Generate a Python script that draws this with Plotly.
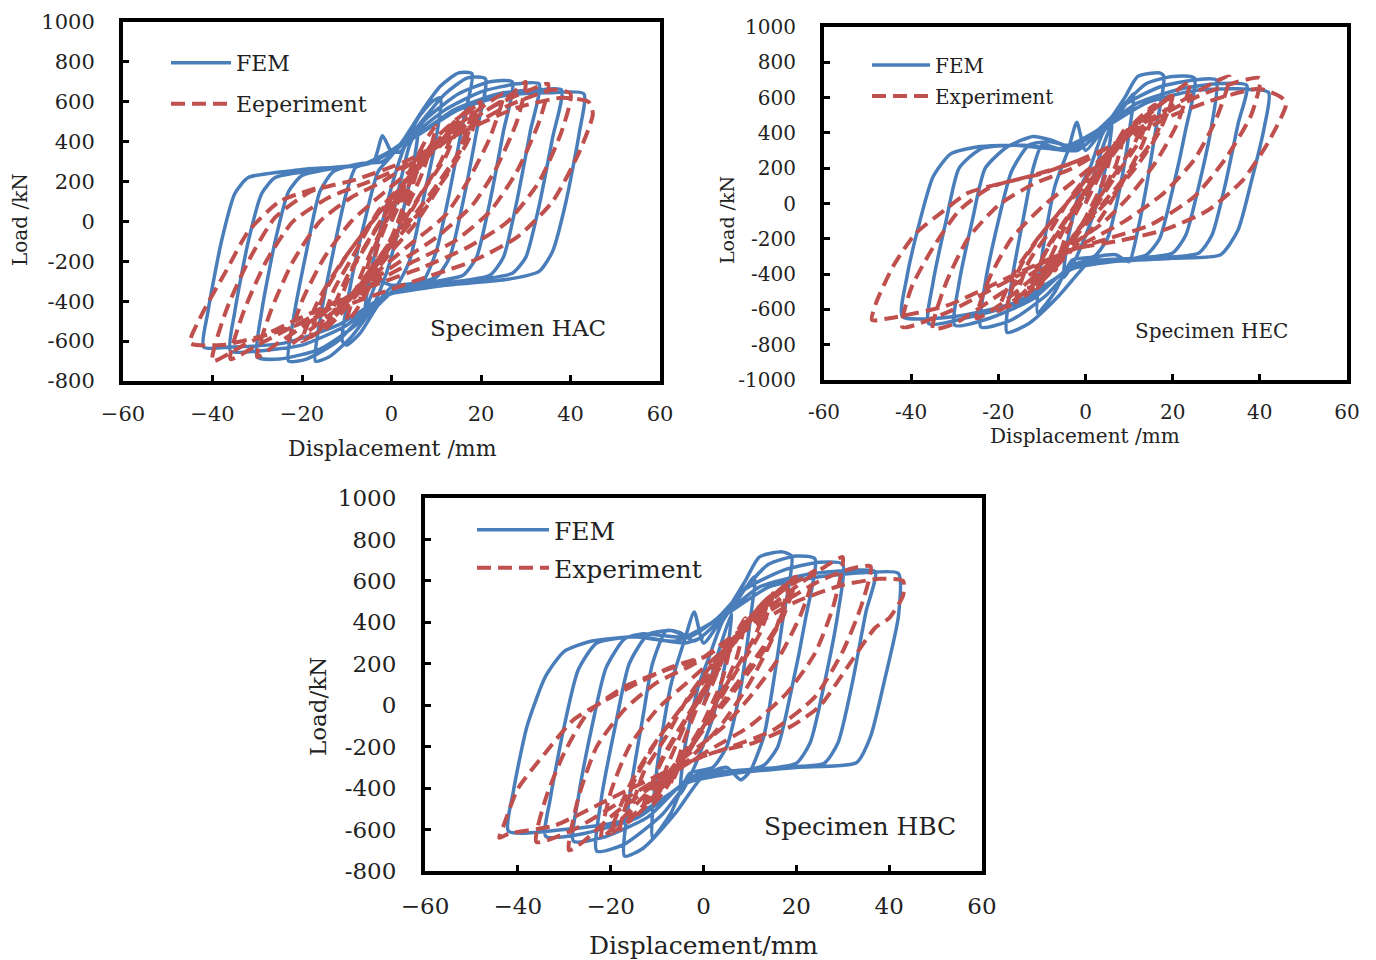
import plotly.graph_objects as go

# ---------------- data (displacement mm, load kN) ----------------
hac_fem = [
    (0, 0), (2, 200), (4, 380), (6, 470), (5, 300), (2, 0), (-1, -250), (-4, -420), (-6, -470), (-5, -300), (-2, 0), (1, 250),
    (3, 380), (6, 520), (9, 600), (11, 620), (10, 420), (7, 100), (4, -200), (1, -330), (-3, -420), (-7, -560), (-10, -620),
    (-11, -600), (-9, -300), (-6, 0), (-3, 250), (0, 330),
    (3, 420), (7, 560), (11, 680), (15, 745), (18, 740), (16, 500), (13, 150), (10, -150), (7, -300), (3, -330), (0, -330),
    (-4, -430), (-9, -580), (-14, -680), (-17, -700), (-16, -500), (-13, -150), (-10, 150), (-8, 270), (-4, 300), (-2, 430), (0, 350),
    (2, 350), (6, 480), (12, 640), (17, 720), (21, 715), (19, 450), (16, 100), (13, -180), (10, -280), (5, -310), (0, -320),
    (-3, -300), (-6, -450), (-12, -600), (-19, -690), (-23, -700), (-22, -500), (-19, -150), (-16, 150), (-13, 250), (-7, 290), (-2, 300),
    (3, 400), (8, 520), (15, 640), (22, 700), (27, 700), (25, 450), (22, 100), (19, -180), (16, -270), (10, -300), (3, -330),
    (-2, -380), (-8, -520), (-16, -640), (-25, -690), (-30, -680), (-29, -450), (-26, -100), (-23, 150), (-20, 230), (-12, 270), (-4, 300),
    (4, 420), (12, 560), (20, 650), (28, 690), (33, 690), (31, 450), (28, 100), (25, -180), (22, -270), (15, -300), (5, -330),
    (-2, -380), (-10, -520), (-20, -620), (-30, -650), (-36, -650), (-35, -450), (-32, -100), (-29, 140), (-26, 220), (-16, 260), (-5, 290),
    (5, 420), (14, 560), (24, 640), (33, 660), (38, 660), (36, 420), (33, 80), (30, -180), (27, -260), (20, -290), (8, -320),
    (-1, -370), (-12, -520), (-24, -610), (-36, -630), (-42, -630), (-41, -450), (-38, -100), (-35, 140), (-32, 220), (-20, 260), (-6, 290),
    (5, 420), (15, 560), (25, 630), (35, 645), (43, 640), (42, 450), (39, 100), (36, -150), (33, -250), (26, -290), (12, -320), (0, -360),
]
hac_exp = [
    (0, 0), (3, 150), (5, 280), (3, 100), (0, -80), (-3, -200), (-5, -300), (-3, -120), (0, 50), (4, 220), (7, 380), (5, 200),
    (1, -30), (-3, -220), (-7, -380), (-5, -200), (-1, 20), (4, 250), (8, 420), (10, 480), (7, 250), (2, 0), (-3, -250),
    (-8, -450), (-10, -500), (-7, -280), (-2, -30),
    (3, 150), (8, 330), (12, 430), (14, 470), (11, 300), (6, 120), (1, -60), (-4, -220), (-9, -380), (-12, -450), (-9, -250),
    (-4, -60), (1, 120), (6, 280), (11, 420), (15, 500), (12, 320), (7, 150), (2, -40), (-4, -230), (-10, -410), (-14, -500),
    (-10, -280), (-5, -90), (0, 80),
    (2, 100), (7, 300), (12, 450), (16, 540), (20, 600), (17, 400), (12, 220), (6, 40), (0, -120), (-6, -300), (-12, -460),
    (-17, -560), (-20, -600), (-16, -380), (-11, -200), (-5, -20), (1, 130), (8, 320), (14, 480), (19, 580), (16, 380),
    (10, 180), (4, 0), (-2, -160), (-8, -340), (-14, -500), (-18, -580), (-15, -360), (-10, -170), (-4, 10),
    (5, 250), (10, 420), (15, 520), (18, 560), (15, 350), (10, 150), (5, -20), (0, -150), (-6, -320), (-12, -480), (-16, -560),
    (-13, -350), (-8, -150), (-3, 50), (3, 200),
    (10, 380), (17, 520), (22, 600), (25, 640), (22, 420), (17, 200), (12, 30), (5, -100), (-2, -230), (-10, -400), (-18, -540),
    (-23, -620), (-20, -400), (-15, -180), (-9, 0), (-3, 120), (4, 250),
    (12, 400), (20, 540), (27, 640), (30, 700), (28, 500), (23, 250), (18, 80), (10, -80), (2, -200), (-8, -350), (-18, -500),
    (-26, -620), (-30, -680), (-27, -450), (-22, -200), (-16, 0), (-9, 120), (-2, 200), (5, 300),
    (14, 450), (23, 580), (31, 660), (35, 690), (33, 500), (28, 250), (22, 50), (14, -100), (5, -200), (-5, -320), (-18, -480),
    (-30, -620), (-36, -690), (-33, -450), (-28, -200), (-22, 0), (-14, 120), (-5, 200), (4, 290),
    (15, 440), (26, 580), (36, 660), (40, 640), (38, 450), (33, 200), (26, 0), (17, -130), (7, -230), (-5, -330), (-20, -480),
    (-33, -620), (-40, -700), (-37, -450), (-32, -200), (-26, 20), (-18, 150), (-8, 210), (3, 300),
    (16, 450), (28, 570), (38, 620), (44, 600), (45, 540), (42, 350), (36, 100), (28, -80), (18, -200), (5, -300), (-10, -420),
    (-25, -550), (-38, -620), (-45, -610), (-42, -450), (-37, -250), (-32, -50), (-25, 100), (-15, 180),
]

hec_fem = [
    (0, 0), (3, 250), (6, 450), (5, 250), (2, -50), (-2, -300), (-5, -420), (-4, -200), (-1, 100), (1, 200),
    (4, 400), (8, 520), (11, 620), (10, 400), (8, 100), (5, -200), (2, -300), (-3, -320), (-7, -500), (-11, -620), (-10, -300),
    (-7, 100), (-4, 300), (-2, 460), (0, 300),
    (4, 420), (9, 600), (12, 720), (17, 740), (18, 720), (16, 400), (14, 100), (12, -150), (10, -330), (7, -290), (3, -300),
    (0, -350), (-6, -520), (-13, -680), (-18, -730), (-17, -450), (-14, -50), (-12, 200), (-10, 330), (-6, 310), (-2, 300),
    (3, 400), (8, 540), (14, 680), (20, 720), (25, 710), (23, 420), (20, 80), (17, -200), (14, -290), (9, -320), (3, -320),
    (-2, -340), (-9, -520), (-17, -660), (-24, -700), (-23, -450), (-20, -100), (-17, 180), (-13, 330), (-8, 350), (-4, 330),
    (3, 420), (9, 560), (17, 660), (25, 700), (30, 700), (29, 450), (26, 100), (23, -180), (20, -280), (12, -310), (4, -320),
    (-3, -350), (-12, -540), (-22, -650), (-30, -690), (-29, -450), (-26, -100), (-23, 200), (-18, 320), (-12, 380), (-8, 360), (-3, 320),
    (4, 430), (12, 570), (22, 650), (31, 680), (37, 670), (35, 450), (32, 100), (29, -180), (26, -280), (16, -310), (5, -320),
    (-3, -360), (-14, -550), (-26, -640), (-36, -680), (-35, -450), (-32, -100), (-29, 200), (-24, 310), (-16, 330), (-6, 310),
    (5, 440), (14, 570), (25, 640), (35, 650), (42, 630), (41, 430), (38, 120), (35, -150), (31, -290), (20, -310), (6, -330),
    (-3, -370), (-16, -560), (-30, -640), (-42, -640), (-41, -420), (-38, -100), (-35, 150), (-31, 280), (-25, 320), (-14, 330),
    (-4, 300), (0, 330),
]
hec_exp = [
    (0, 0), (3, 150), (6, 300), (4, 120), (0, -80), (-4, -250), (-7, -380), (-4, -150), (0, 50), (5, 250), (9, 420), (7, 220),
    (2, -20), (-3, -220), (-9, -420), (-11, -480), (-7, -250), (-2, 0), (4, 220),
    (8, 360), (12, 460), (14, 500), (11, 330), (6, 140), (1, -50), (-4, -230), (-9, -400), (-12, -460), (-9, -260), (-4, -70),
    (1, 110), (6, 290), (11, 440), (15, 530), (12, 340), (7, 160), (2, -30), (-4, -240), (-10, -420), (-13, -480), (-9, -270),
    (-4, -80), (1, 90),
    (7, 300), (12, 450), (16, 540), (20, 610), (17, 410), (12, 220), (6, 40), (0, -120), (-6, -300), (-12, -460), (-17, -560),
    (-20, -610), (-16, -380), (-11, -200), (-5, -20), (1, 130), (8, 330), (14, 490), (19, 590), (16, 380), (10, 180), (4, 0),
    (-2, -160), (-8, -340), (-14, -500), (-18, -590), (-15, -360), (-10, -170), (-4, 10),
    (9, 400), (13, 500), (16, 560), (13, 330), (8, 100), (3, -100), (-3, -260), (-10, -440), (-16, -560), (-13, -330), (-8, -150),
    (-3, 50), (3, 230),
    (10, 420), (17, 560), (22, 660), (24, 690), (21, 450), (16, 230), (10, 40), (4, -110), (-4, -250), (-12, -420), (-20, -580),
    (-25, -650), (-22, -420), (-17, -200), (-10, -20), (-3, 120), (5, 280),
    (13, 450), (22, 580), (29, 680), (33, 720), (30, 480), (25, 250), (18, 60), (9, -100), (0, -220), (-10, -360), (-20, -520),
    (-30, -680), (-35, -710), (-32, -450), (-27, -200), (-20, -10), (-12, 110), (-3, 200), (6, 330),
    (16, 480), (26, 610), (35, 690), (40, 710), (38, 500), (32, 250), (25, 40), (15, -120), (5, -200), (-5, -280), (-18, -440),
    (-32, -620), (-42, -700), (-40, -480), (-35, -250), (-29, -40), (-22, 90), (-12, 160), (-3, 230), (8, 350),
    (20, 500), (31, 600), (40, 650), (45, 600), (46, 560), (42, 350), (36, 130), (28, -40), (18, -150), (8, -210), (-3, -260),
    (-16, -400), (-32, -580), (-45, -650), (-49, -660), (-48, -560), (-44, -350), (-39, -170), (-33, -50), (-27, 60), (-20, 110),
    (-10, 170), (-2, 240),
]

hbc_fem = [
    (0, 0), (3, 240), (6, 440), (5, 240), (2, -60), (-2, -300), (-5, -430), (-4, -200), (-1, 100), (1, 220),
    (4, 400), (8, 530), (11, 620), (10, 400), (8, 80), (5, -200), (2, -300), (-3, -330), (-7, -520), (-11, -640), (-10, -300),
    (-7, 100), (-4, 320), (-2, 450), (0, 300),
    (4, 420), (9, 600), (12, 715), (17, 740), (19, 720), (17, 400), (15, 100), (13, -150), (10, -320), (8, -360), (5, -300),
    (0, -340), (-6, -520), (-13, -690), (-17, -728), (-16, -450), (-13, -50), (-11, 200), (-8, 360), (-5, 350), (-2, 310),
    (3, 400), (8, 540), (14, 680), (20, 720), (24, 707), (22, 420), (19, 80), (16, -200), (13, -290), (8, -320), (3, -320),
    (-2, -340), (-9, -530), (-17, -670), (-23, -704), (-22, -450), (-19, -100), (-16, 200), (-12, 340), (-7, 360), (-3, 330),
    (3, 420), (9, 560), (17, 650), (25, 690), (30, 680), (29, 450), (26, 100), (23, -180), (20, -280), (12, -310), (4, -320),
    (-3, -350), (-12, -540), (-22, -640), (-28, -656), (-27, -450), (-24, -100), (-21, 180), (-17, 320), (-13, 345), (-4, 330),
    (4, 430), (12, 570), (22, 630), (31, 650), (37, 645), (35, 450), (32, 100), (29, -180), (26, -280), (16, -300), (5, -320),
    (-3, -360), (-14, -540), (-26, -620), (-34, -633), (-33, -450), (-30, -100), (-27, 170), (-23, 300), (-15, 330), (-6, 310),
    (5, 440), (14, 570), (25, 620), (35, 640), (42, 636), (42, 430), (39, 120), (36, -150), (33, -276), (20, -300), (6, -330),
    (-3, -370), (-16, -550), (-30, -600), (-42, -608), (-41, -420), (-38, -100), (-34, 140), (-30, 260), (-24, 310), (-14, 330),
    (-4, 300), (0, 330),
]
hbc_exp = [
    (0, 0), (3, 160), (6, 320), (4, 120), (0, -80), (-4, -240), (-7, -380), (-4, -160), (0, 60), (5, 260), (9, 420), (7, 220),
    (2, -20), (-3, -220), (-9, -430), (-11, -480), (-7, -250), (-2, 0), (4, 220),
    (8, 370), (12, 470), (14, 510), (11, 330), (6, 140), (1, -50), (-4, -230), (-9, -400), (-12, -470), (-9, -260), (-4, -70),
    (1, 110), (6, 300), (11, 450), (15, 540), (12, 340), (7, 160), (2, -30), (-4, -240), (-10, -420), (-13, -490), (-9, -270),
    (-4, -80), (1, 90),
    (7, 310), (12, 460), (16, 550), (20, 620), (17, 420), (12, 230), (6, 50), (0, -120), (-6, -300), (-12, -460), (-17, -570),
    (-20, -620), (-16, -390), (-11, -200), (-5, -20), (1, 140), (8, 340), (14, 500), (19, 600), (16, 390), (10, 190), (4, 10),
    (-2, -160), (-8, -340), (-14, -510), (-18, -600), (-15, -370), (-10, -170), (-4, 10),
    (10, 420), (14, 520), (18, 570), (15, 330), (10, 110), (4, -90), (-3, -260), (-10, -430), (-16, -560), (-13, -330), (-8, -150),
    (-3, 50), (3, 230),
    (11, 430), (18, 570), (22, 620), (24, 650), (21, 440), (16, 220), (10, 40), (4, -110), (-4, -250), (-12, -420), (-19, -580),
    (-22, -640), (-20, -420), (-16, -200), (-10, -20), (-3, 120), (5, 280),
    (13, 450), (21, 590), (27, 680), (30, 715), (28, 480), (24, 250), (18, 60), (10, -100), (1, -220), (-9, -360), (-19, -520),
    (-26, -660), (-29, -700), (-27, -450), (-23, -200), (-17, -20), (-10, 110), (-2, 200), (6, 330),
    (16, 480), (25, 600), (32, 660), (36, 670), (34, 480), (30, 260), (24, 40), (15, -120), (6, -200), (-4, -280), (-16, -440),
    (-28, -600), (-36, -660), (-34, -450), (-30, -230), (-25, -40), (-17, 90), (-8, 170), (0, 230), (9, 360),
    (20, 500), (30, 580), (38, 610), (43, 600), (43, 530), (40, 420), (37, 374), (31, 184), (25, -6), (19, -100), (11, -180),
    (2, -230), (-8, -320), (-20, -450), (-32, -580), (-42, -620), (-44, -640), (-43, -577), (-40, -403), (-34, -228),
    (-28, -70), (-21, 25), (-13, 120), (-7, 184), (0, 232),
]

x_ticks = [-60, -40, -20, 0, 20, 40, 60]
x_text_minus = ["\u221260", "\u221240", "\u221220", "0", "20", "40", "60"]
x_text_hyphen = ["-60", "-40", "-20", "0", "20", "40", "60"]
y_ticks_a = [-800, -600, -400, -200, 0, 200, 400, 600, 800, 1000]
y_ticks_b = [-1000, -800, -600, -400, -200, 0, 200, 400, 600, 800, 1000]

panel_titles = ["Specimen HAC", "Specimen HEC", "Specimen HBC"]
legend_names = [("FEM", "Eeperiment"), ("FEM", "Experiment"), ("FEM", "Experiment")]

BLUE = "#4A7EBB"
RED = "#C0504D"
FONT = "DejaVu Serif"
W, H = 1376, 960

fig = go.Figure()

panels = [
    dict(fem=hac_fem, exp=hac_exp, xa="x", ya="y", lg=("legend", "legend2")),
    dict(fem=hec_fem, exp=hec_exp, xa="x2", ya="y2", lg=("legend3", "legend4")),
    dict(fem=hbc_fem, exp=hbc_exp, xa="x3", ya="y3", lg=("legend5", "legend6")),
]
for i, p in enumerate(panels):
    fx, fy = zip(*p["fem"])
    ex, ey = zip(*p["exp"])
    fig.add_trace(go.Scatter(x=list(fx), y=list(fy), mode="lines", name=legend_names[i][0],
                             line=dict(color=BLUE, width=3.5, shape="spline", smoothing=0.6),
                             xaxis=p["xa"], yaxis=p["ya"], legend=p["lg"][0]))
    fig.add_trace(go.Scatter(x=list(ex), y=list(ey), mode="lines", name=legend_names[i][1],
                             line=dict(color=RED, width=4, dash="14px,7px", shape="spline", smoothing=0.6),
                             xaxis=p["xa"], yaxis=p["ya"], legend=p["lg"][1]))

def px_x(v):
    return v / W

def px_y(v):
    return 1 - v / H

# panel geometry in pixels (inner plot area)
geo = [
    dict(x0=123, x1=660, y0=22, y1=381, tick=21, xt=x_text_minus, yt=y_ticks_a, yr=[-800, 1000]),
    dict(x0=824, x1=1347, y0=27, y1=380, tick=20, xt=x_text_hyphen, yt=y_ticks_b, yr=[-1000, 1000]),
    dict(x0=425, x1=982, y0=498, y1=871, tick=23, xt=x_text_minus, yt=y_ticks_a, yr=[-800, 1000]),
]
axes = {}
for i, g in enumerate(geo):
    sx = "" if i == 0 else str(i + 1)
    axes["xaxis" + sx] = dict(
        domain=[px_x(g["x0"]), px_x(g["x1"])], range=[-60, 60], anchor="y" + sx, automargin=False,
        tickvals=x_ticks, ticktext=g["xt"], ticks="inside", ticklen=6, tickwidth=3, tickcolor="black",
        showline=True, linewidth=4, linecolor="black", mirror=True, showgrid=False, zeroline=False,
        tickfont=dict(family=FONT, size=g["tick"], color="#222"), ticklabelstandoff=11,
    )
    axes["yaxis" + sx] = dict(
        domain=[px_y(g["y1"]), px_y(g["y0"])], range=g["yr"], anchor="x" + sx, automargin=False,
        tickvals=g["yt"], ticktext=[str(v) for v in g["yt"]], ticks="inside", ticklen=6, tickwidth=3,
        tickcolor="black", showline=True, linewidth=4, linecolor="black", mirror=True, showgrid=False,
        zeroline=False, tickfont=dict(family=FONT, size=g["tick"], color="#222"), ticklabelstandoff=20,
    )

# (left px, centre y px, font size, symbol width)
legend_pos = [
    (172, 63, 22, 60), (172, 104, 22, 60),
    (873, 65, 20, 58), (873, 96, 20, 58),
    (478, 530, 25, 72), (478, 568, 25, 72),
]
legends = {}
for k, (lx, ly, fs, iw) in enumerate(legend_pos):
    key = "legend" if k == 0 else "legend" + str(k + 1)
    legends[key] = dict(x=px_x(lx - 6), y=px_y(ly), xanchor="left", yanchor="middle", xref="paper", yref="paper",
                        bgcolor="rgba(0,0,0,0)", borderwidth=0, itemwidth=iw,
                        font=dict(family=FONT, size=fs, color="#222"))

annotations = []
def ann(text, x, y, size, angle=0):
    annotations.append(dict(text=text, x=px_x(x), y=px_y(y), xref="paper", yref="paper", showarrow=False,
                            xanchor="center", yanchor="middle", textangle=angle,
                            font=dict(family=FONT, size=size, color="#222")))

ann("Displacement /mm", 392, 448, 22)
ann("Load /kN", 20, 220, 20, -90)
ann(panel_titles[0], 518, 328, 23)
ann("Displacement /mm", 1085, 436, 20)
ann("Load /kN", 727, 220, 19, -90)
ann(panel_titles[1], 1211, 331, 20)
ann("Displacement/mm", 703, 945, 25)
ann("Load/kN", 318, 707, 23, -90)
ann(panel_titles[2], 860, 826, 25)

fig.update_layout(
    width=W, height=H, margin=dict(l=0, r=0, t=0, b=0, autoexpand=False),
    paper_bgcolor="white", plot_bgcolor="white",
    showlegend=True, annotations=annotations, **axes, **legends,
)

fig.write_html("out.html")
